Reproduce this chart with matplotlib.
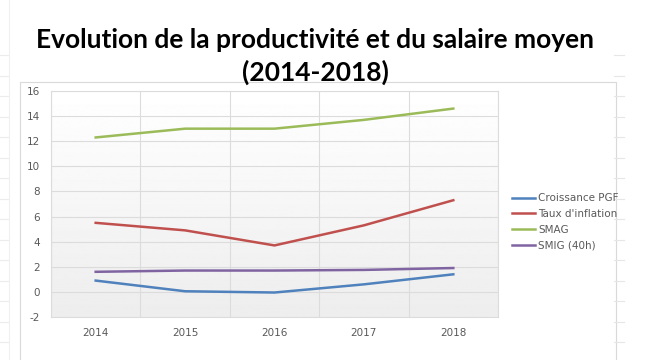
import numpy as np
import matplotlib.pyplot as plt
from matplotlib.patches import Rectangle

# Evolution de la productivite et du salaire moyen 2014-2018
years = ["2014", "2015", "2016", "2017", "2018"]
croissance_pgf = [0.9, 0.05, -0.05, 0.6, 1.4]
taux_inflation = [5.5, 4.9, 3.7, 5.3, 7.3]
smag = [12.3, 13.0, 13.0, 13.7, 14.6]
smig_40h = [1.6, 1.7, 1.7, 1.75, 1.9]

series = [
    ("Croissance PGF", croissance_pgf, "#4F81BD"),
    ("Taux d'inflation", taux_inflation, "#C0504D"),
    ("SMAG", smag, "#9BBB59"),
    ("SMIG (40h)", smig_40h, "#8064A2"),
]

plt.rcParams["axes.unicode_minus"] = False

W, H = 660, 360
fig = plt.figure(figsize=(W / 100, H / 100), dpi=100)
fig.patch.set_facecolor("white")

# faint spreadsheet cell borders behind the chart
bg = fig.add_axes([0, 0, 1, 1])
bg.set_xlim(0, W)
bg.set_ylim(H, 0)
bg.axis("off")
for y in np.arange(55, H, 20.5):
    bg.plot([614, 624], [y, y], color="#e6e6e6", lw=0.8)
    bg.plot([0, 8], [y, y], color="#ececec", lw=0.8)
bg.plot([9, 9], [0, H], color="#f0f0f0", lw=0.8)
bg.add_patch(Rectangle((20, 82), 596, 300, facecolor="white",
                       edgecolor="#d9d9d9", lw=0.8))

# plot area
ax = fig.add_axes([51 / W, 1 - 317 / H, (498 - 51) / W, (317 - 91) / H])
x = np.arange(len(years))

grad = np.linspace(1.0, 0.93, 256).reshape(-1, 1)
ax.imshow(grad, cmap="gray", vmin=0, vmax=1, aspect="auto",
          extent=[-0.5, 4.5, -2, 16], origin="upper", zorder=0)

for label, vals, color in series:
    ax.plot(x, vals, color=color, lw=1.8, label=label, zorder=3)

ax.set_xlim(-0.5, 4.5)
ax.set_ylim(-2, 16)
ax.set_yticks(range(-2, 17, 2))
ax.set_xticks(x)
ax.set_xticklabels(years)
ax.set_xticks(np.arange(-0.5, 4.6, 1), minor=True)
ax.grid(True, which="major", axis="y", color="#dcdcdc", lw=0.8, zorder=1)
ax.grid(True, which="minor", axis="x", color="#dcdcdc", lw=0.8, zorder=1)
ax.tick_params(which="both", length=0, labelsize=7.5, colors="#595959")
ax.tick_params(axis="x", pad=8)
ax.tick_params(axis="y", pad=8)
for s in ax.spines.values():
    s.set_color("#dcdcdc")
    s.set_linewidth(0.8)

fig.legend(loc="upper left", bbox_to_anchor=(503 / W, 1 - 184 / H),
           frameon=False, fontsize=7.5, handlelength=2.2, handletextpad=0.3,
           labelspacing=0.55, labelcolor="#595959")

fig.text(315 / W, 1 - 40 / H, "Evolution de la productivité et du salaire moyen",
         ha="center", va="center", fontsize=19, fontweight="bold",
         family="Lato")
fig.text(315 / W, 1 - 72 / H, "(2014-2018)", ha="center", va="center",
         fontsize=19, fontweight="bold", family="Lato")

fig.savefig("out.png", dpi=100)
